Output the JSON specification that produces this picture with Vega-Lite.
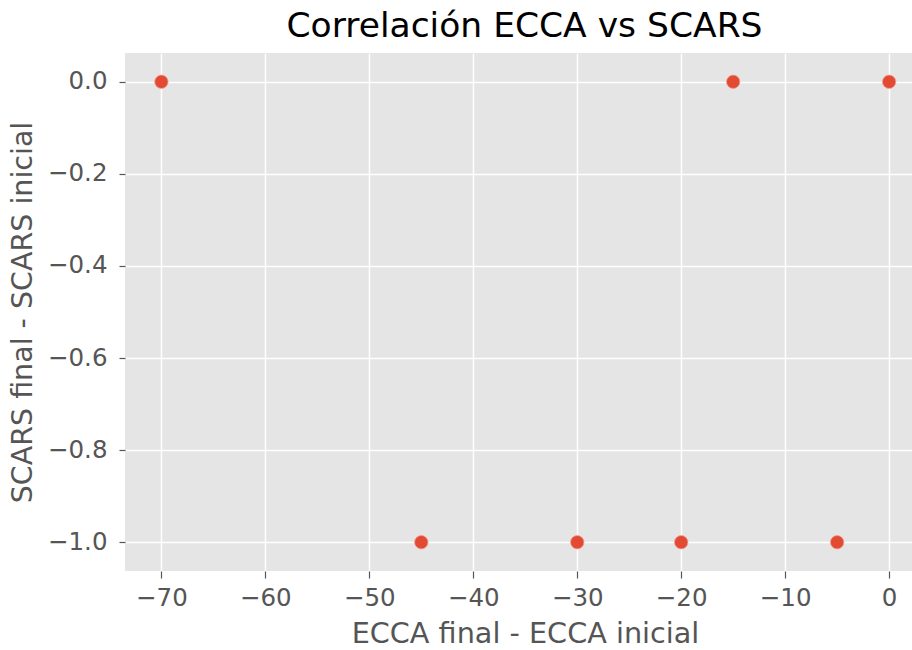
{
  "$schema": "https://vega.github.io/schema/vega-lite/v6.json",
  "autosize": {"type": "none"},
  "width": 787,
  "height": 518,
  "padding": {"left": 125, "top": 53, "right": 0, "bottom": 79},
  "background": "white",
  "config": {
    "view": {"fill": "#E5E5E5", "stroke": null},
    "font": "DejaVu Sans"
  },
  "title": {
    "text": "Correlación ECCA vs SCARS",
    "font": "DejaVu Sans",
    "fontSize": 34.5,
    "fontWeight": "normal",
    "color": "#000000",
    "offset": 9,
    "dx": 6
  },
  "data": {
    "values": [
      {"ecca": -70, "scars": 0},
      {"ecca": -15, "scars": 0},
      {"ecca": 0, "scars": 0},
      {"ecca": -45, "scars": -1},
      {"ecca": -30, "scars": -1},
      {"ecca": -20, "scars": -1},
      {"ecca": -5, "scars": -1}
    ]
  },
  "mark": {"type": "point", "filled": true, "shape": "circle", "size": 180, "color": "#E24A33", "opacity": 1, "stroke": "#F3A091", "strokeWidth": 0.8, "clip": false},
  "encoding": {
    "x": {
      "field": "ecca",
      "type": "quantitative",
      "scale": {"domain": [-73.5, 2.2], "nice": false, "zero": false},
      "axis": {
        "title": "ECCA final - ECCA inicial",
        "values": [-70, -60, -50, -40, -30, -20, -10, 0],
        "format": "d",
        "grid": true,
        "gridColor": "white",
        "gridWidth": 1.5,
        "domain": false,
        "tickColor": "#555555",
        "tickSize": 7,
        "tickWidth": 1.2,
        "labelFont": "DejaVu Sans",
        "labelFontSize": 24.5,
        "labelColor": "#555555",
        "labelPadding": 8,
        "titleFont": "DejaVu Sans",
        "titleFontSize": 28.7,
        "titleFontWeight": "normal",
        "titleColor": "#555555",
        "titlePadding": 10,
        "titleX": 400
      }
    },
    "y": {
      "field": "scars",
      "type": "quantitative",
      "scale": {"domain": [-1.0625, 0.0625], "nice": false, "zero": false},
      "axis": {
        "title": "SCARS final - SCARS inicial",
        "values": [-1.0, -0.8, -0.6, -0.4, -0.2, 0.0],
        "format": ".1f",
        "grid": true,
        "gridColor": "white",
        "gridWidth": 1.5,
        "domain": false,
        "tickColor": "#555555",
        "tickSize": 6,
        "tickWidth": 1.2,
        "labelFont": "DejaVu Sans",
        "labelFontSize": 24.5,
        "labelColor": "#555555",
        "labelPadding": 12,
        "titleFont": "DejaVu Sans",
        "titleFontSize": 28.5,
        "titleFontWeight": "normal",
        "titleColor": "#555555",
        "titlePadding": 10
      }
    }
  }
}
